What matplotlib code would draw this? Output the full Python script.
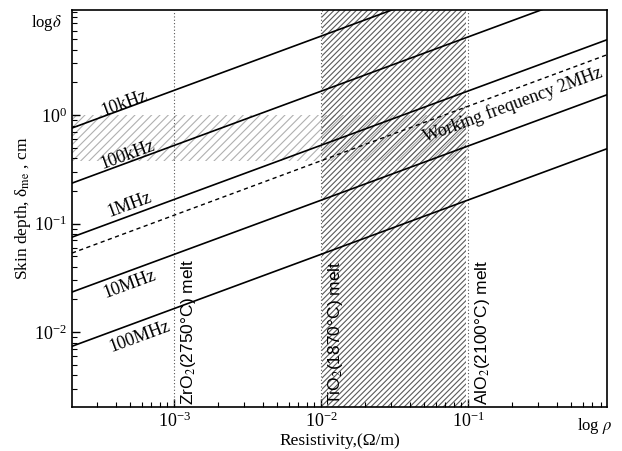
import numpy as np
import matplotlib
matplotlib.use("Agg")
import matplotlib.pyplot as plt

plt.rcParams['font.family'] = ['Liberation Serif', 'DejaVu Serif']
plt.rcParams['mathtext.fontset'] = 'stix'
plt.rcParams['hatch.linewidth'] = 0.8

# Data: skin depth (cm) at the two ends of the rho axis
rho_ends = [2.02e-4, 0.88]
freq_labels = ['10kHz', '100kHz', '1MHz', '10MHz', '100MHz']
delta_left = [0.76, 0.236, 0.075, 0.0234, 0.0074]
delta_right = [50.2, 15.6, 4.95, 1.54, 0.49]
work_label = 'Working frequency 2MHz'
work_left = 0.0535
work_right = 3.6

# label positions (rho, delta)
label_pos = [(4.6e-4, 1.29), (4.8e-4, 0.43), (5.0e-4, 0.148), (5.0e-4, 0.0277), (5.8e-4, 0.009)]
work_pos = (0.2, 1.25)

melt_rho = [1e-3, 1e-2, 1e-1]
melt_labels = [r'ZrO$_2$(2750°C) melt', r'TiO$_2$(1870°C) melt', r'AlO$_2$(2100°C) melt']

hband_rho = [2.02e-4, 0.1]
hband_delta = [0.38, 1.0]
vband_rho = [0.0102, 0.097]

fig = plt.figure(figsize=(6.22, 4.51), dpi=100)
ax = fig.add_axes([0.1158, 0.0976, 0.8602, 0.8802])
ax.set_xscale('log')
ax.set_yscale('log')
ax.set_xlim(2.02e-4, 0.88)
ax.set_ylim(2.04e-3, 9.3)

# shaded regions
ax.fill_between(hband_rho, hband_delta[0], hband_delta[1], facecolor='none',
                edgecolor='#b0b0b0', hatch='////', linewidth=0, zorder=1)
ax.axvspan(vband_rho[0], vband_rho[1], facecolor='none', edgecolor='#5a5a5a',
           hatch='//////', linewidth=0, zorder=1)

for r in melt_rho:
    ax.axvline(r, color='#555555', linestyle=(0, (1, 2)), linewidth=0.8, zorder=2)

for dl, dr in zip(delta_left, delta_right):
    ax.plot(rho_ends, [dl, dr], color='black', linewidth=1.2, zorder=3)
ax.plot(rho_ends, [work_left, work_right], color='black', linewidth=1.0,
        linestyle=(0, (3, 2.5)), zorder=3)

fig.canvas.draw()
p1 = ax.transData.transform((rho_ends[0], delta_left[0]))
p2 = ax.transData.transform((rho_ends[1], delta_right[0]))
ang = np.degrees(np.arctan2(p2[1] - p1[1], p2[0] - p1[0]))

for lab, (x, y) in zip(freq_labels, label_pos):
    ax.text(x, y, lab, rotation=ang, rotation_mode='anchor', ha='center', va='center',
            fontsize=13, zorder=4)
ax.text(work_pos[0], work_pos[1], work_label, rotation=ang, rotation_mode='anchor',
        ha='center', va='center', fontsize=13, zorder=4)

for r, lab in zip(melt_rho, melt_labels):
    ax.text(r * 1.08, 2.15e-3, lab, rotation=90, ha='left', va='bottom', fontsize=12.5,
            family=['Liberation Sans', 'DejaVu Sans'], zorder=4)

ax.text(-0.047, 0.967, r'log$\delta$', fontsize=12, ha='center', va='center',
        transform=ax.transAxes, clip_on=False)
ax.text(0.72, 1.35e-3, r'log $\rho$', fontsize=12, ha='center', va='center', clip_on=False)

ax.set_xticks([1e-3, 1e-2, 1e-1])
ax.set_yticks([1e-2, 1e-1, 1e0])
ax.tick_params(which='both', direction='in', top=False, right=False, labelsize=13)
ax.tick_params(which='major', length=6, width=1.0)
ax.tick_params(which='minor', length=3.5, width=0.8)
for s in ax.spines.values():
    s.set_linewidth(1.2)

ax.set_xlabel('Resistivity,(Ω/m)', fontsize=12.5, labelpad=1)
ax.set_ylabel(r'Skin depth, δ$_{\mathrm{me}}$ , cm', fontsize=12.5, labelpad=1)

fig.savefig('out.png', dpi=100)
